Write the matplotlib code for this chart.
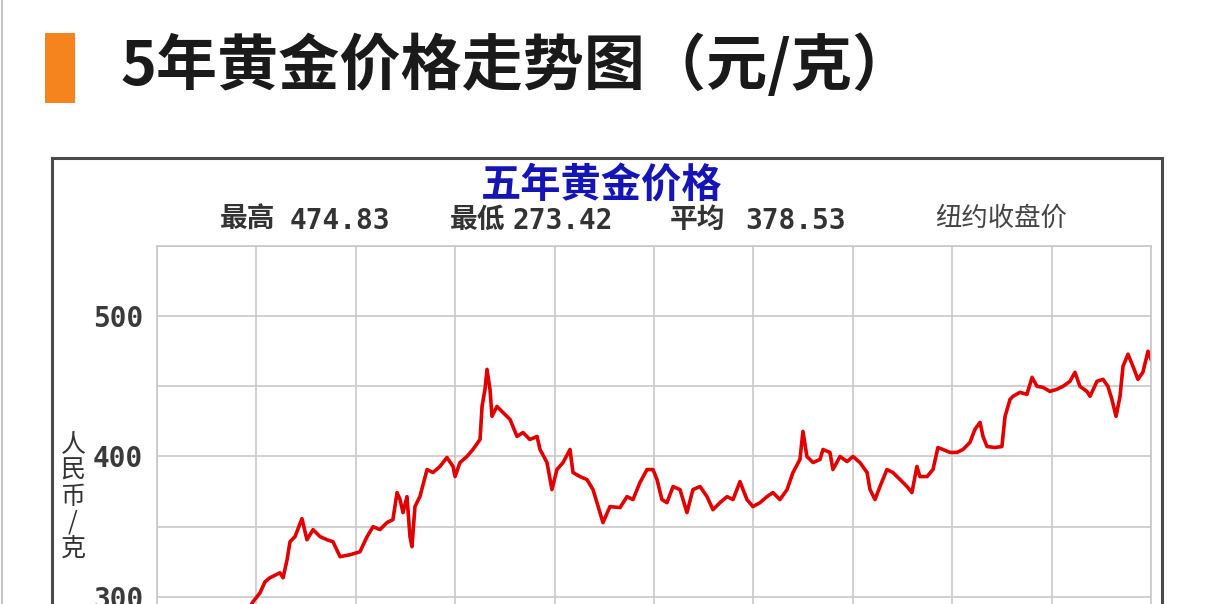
import matplotlib
matplotlib.use("Agg")
import matplotlib.pyplot as plt
from matplotlib.patches import Rectangle
from matplotlib.lines import Line2D

W, H = 1214, 604

# months since start of the 5-year window, and price (yuan / gram)
months = [0, 0.78, 1.69, 2.60, 3.50, 4.29, 5.01, 5.61, 5.79, 6.22, 6.52, 6.82, 7.42, 7.61, 7.85,
          8.03, 8.33, 8.75, 9.05, 9.42, 9.84, 10.26, 10.62, 11.05, 11.65, 12.25, 12.68, 13.04,
          13.46, 13.88, 14.24, 14.49, 14.67, 14.85, 15.09, 15.27, 15.39, 15.57, 15.87, 16.30,
          16.66, 17.08, 17.50, 17.87, 17.99, 18.29, 18.71, 19.07, 19.50, 19.62, 19.80, 19.92,
          20.10, 20.22, 20.52, 20.88, 21.31, 21.73, 22.09, 22.51, 22.94, 23.12, 23.54, 23.84,
          24.14, 24.51, 24.93, 25.11, 25.53, 25.95, 26.32, 26.74, 26.92, 27.34, 27.95, 28.37,
          28.73, 29.15, 29.58, 29.94, 30.18, 30.48, 30.78, 31.15, 31.57, 31.99, 32.35, 32.78,
          33.20, 33.56, 33.98, 34.41, 34.77, 35.19, 35.61, 35.97, 36.40, 36.82, 37.18, 37.60,
          38.03, 38.39, 38.81, 38.99, 39.23, 39.60, 40.02, 40.20, 40.62, 40.80, 41.23, 41.65,
          42.01, 42.43, 42.86, 43.04, 43.34, 43.64, 44.06, 44.42, 44.85, 45.27, 45.57, 45.87,
          46.05, 46.48, 46.84, 47.14, 47.44, 47.87, 48.29, 48.65, 49.07, 49.37, 49.68, 49.86,
          50.10, 50.58, 51.00, 51.19, 51.49, 51.67, 52.09, 52.51, 52.82, 53.12, 53.48, 53.90,
          54.32, 54.69, 55.11, 55.41, 55.71, 56.13, 56.32, 56.74, 57.10, 57.40, 57.64, 57.89,
          58.13, 58.31, 58.61, 58.91, 59.21, 59.51, 59.82, 60.00]
price = [289, 284, 280, 276, 273.4, 281, 287, 293, 296.4, 302.9, 310.7, 313.6, 317.1, 313.6, 326.4,
         339.3, 342.9, 355.7, 340.7, 347.9, 342.9, 340.7, 339.3, 328.6, 330, 332.1, 342.9, 350,
         347.9, 352.9, 355, 374.3, 369.3, 360, 371.4, 342.9, 335.7, 364.3, 371.4, 390.7,
         388.6, 392.9, 399.3, 392.9, 385.7, 395.7, 400, 405, 412.1, 435.7, 447.9, 462.1,
         447.9, 428.6, 435.7, 431.4, 426.4, 414.3, 417.1, 412.1, 414.3, 405, 395.7, 376.4,
         390.7, 395.7, 405, 388.6, 385.7, 383.6, 376.4, 360, 352.9, 364.3, 363.6, 371.4,
         369.3, 381.4, 390.7, 390.7, 383.6, 369.3, 367.1, 378.6, 376.4, 360, 376.4, 378.6,
         371.4, 362.1, 367.1, 371.4, 369.3, 382.1, 369.3, 364.3, 367.1, 371.4, 374.3, 369.3,
         376.4, 388.6, 397.9, 417.9, 400, 395.7, 397.9, 405, 402.9, 390.7, 400, 396.4,
         400, 395.7, 388.6, 376.4, 369.3, 378.6, 390.7, 388.6, 383.6, 378.6, 374.3, 392.9,
         385.7, 385.7, 390.7, 406.4, 405, 402.9, 402.9, 405, 410, 419.3, 424.3, 414.3,
         407.1, 406.4, 407.1, 428.6, 440.7, 442.9, 445.7, 444.3, 456.4, 450, 449.3, 446.4,
         447.9, 450, 453.6, 460, 450, 446.4, 442.9, 453.6, 455, 450, 440.7, 428.6,
         442.9, 464.3, 472.9, 464.3, 455, 460, 475, 469.3]

stat_names = ["最高", "最低", "平均"]
stat_values = ["474.83", "273.42", "378.53"]
yticks = [250, 300, 350, 400, 450, 500, 550]
ytick_labels = ["", "300", "", "400", "", "500", ""]

CJK = "Noto Sans CJK SC"


def fx(x):
    return x / W


def fy(y):
    return 1 - y / H


fig = plt.figure(figsize=(W / 100, H / 100), dpi=100)
fig.patch.set_facecolor("white")

# page edge and orange marker
fig.add_artist(Line2D([fx(2), fx(2)], [0, 1], color="#c4c4c4", lw=1.5))
fig.patches.append(Rectangle((fx(45), fy(103)), 30 / W, 70 / H, transform=fig.transFigure,
                             facecolor="#f5841f", edgecolor="none"))
fig.text(fx(120), fy(66), "5年黄金价格走势图（元/克）", family=[CJK], fontsize=44,
         fontweight="bold", color="#1a1a1a", va="center", ha="left")

# chart frame
fig.patches.append(Rectangle((fx(52), -0.2), (1162 - 52) / W, fy(158) + 0.2,
                             transform=fig.transFigure, fill=False,
                             edgecolor="#4a4a4a", lw=2.2))

fig.text(fx(602), fy(185), "五年黄金价格", family=[CJK], fontsize=29, fontweight="bold",
         color="#1515b5", ha="center", va="center")
for name, val, x0, x1 in zip(stat_names, stat_values, [220, 450, 670], [290, 512, 745]):
    fig.text(fx(x0), fy(220), name, family=[CJK], fontsize=20, fontweight="bold",
             color="#333333", ha="left", va="center")
    fig.text(fx(x1), fy(221), val, family="DejaVu Sans Mono", fontsize=20, fontweight="bold",
             color="#333333", ha="left", va="center")
fig.text(fx(935), fy(218), "纽约收盘价", family=[CJK], fontsize=19, color="#444444",
         ha="left", va="center")

fig.text(fx(73), fy(497), "人\n民\n币\n/\n克", family=[CJK], fontsize=18, fontweight="medium",
         color="#333333", ha="center", va="center", linespacing=1.0)

ax = fig.add_axes([fx(157), fy(667), 994 / W, (667 - 246) / H])
ax.plot(months, price, color="#e00000", lw=2.6)
ax.set_xlim(0, 60)
ax.set_ylim(250, 550)
ax.set_xticks(range(0, 61, 6))
ax.set_xticklabels([])
ax.set_yticks(yticks)
ax.set_yticklabels(ytick_labels, family="DejaVu Sans Mono", fontweight="bold",
                   fontsize=20, color="#3a3a3a")
ax.tick_params(length=0, pad=10)
ax.grid(color="#c8c8c8", lw=1.2)
for s in ax.spines.values():
    s.set_color("#c8c8c8")
    s.set_linewidth(1.2)

fig.savefig("out.png", dpi=100)
